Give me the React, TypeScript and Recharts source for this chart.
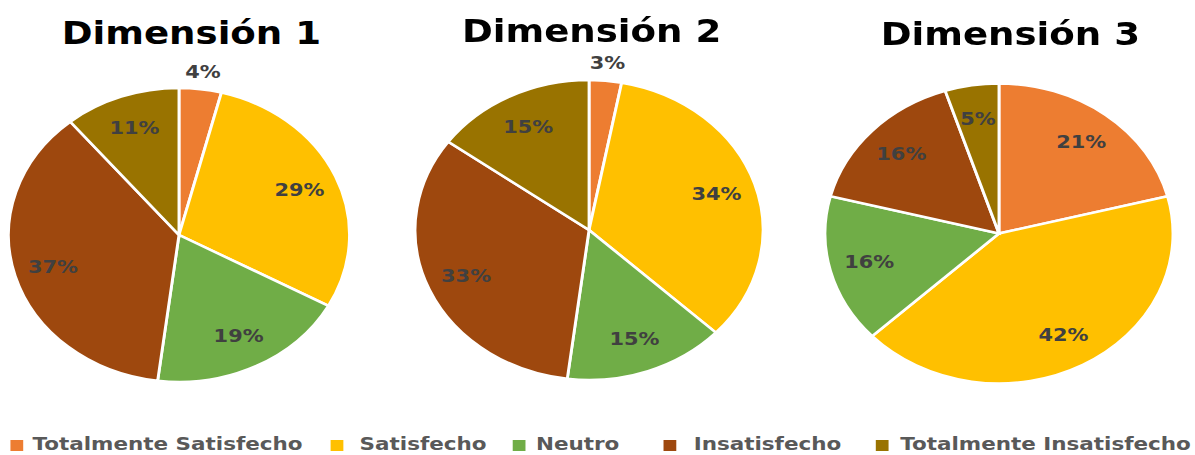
import { PieChart, Pie, Cell } from 'recharts';

// categories and colours
const categories = [
  'Totalmente Satisfecho',
  'Satisfecho',
  'Neutro',
  'Insatisfecho',
  'Totalmente Insatisfecho',
];
const colors = ['#ED7D31', '#FFC000', '#70AD47', '#9E480E', '#997300'];

// percent values per dimension
const dim1 = [4, 29, 19, 37, 11];
const dim2 = [3, 34, 15, 33, 15];
const dim3 = [21, 42, 16, 16, 5];

const titles = ['Dimensión 1', 'Dimensión 2', 'Dimensión 3'];

// the original picture is stretched horizontally
const SX = 1.16;
const W = 1030;
const H = 455;

const toRows = (values: number[]) =>
  categories.map((name, i) => ({ name, value: values[i] }));

const RADIAN = Math.PI / 180;

const renderLabel = (props: any) => {
  const { cx, cy, midAngle, outerRadius, value } = props;
  // very small slices get their label just outside the pie
  const r = value <= 4 ? outerRadius * 1.12 : outerRadius * 0.77;
  const x = cx + r * Math.cos(-midAngle * RADIAN);
  const y = cy + r * Math.sin(-midAngle * RADIAN);
  return (
    <text
      x={x}
      y={y}
      fill="#404040"
      fontSize={18}
      fontWeight="bold"
      fontFamily="DejaVu Sans"
      textAnchor="middle"
      dominantBaseline="central"
    >
      {`${value}%`}
    </text>
  );
};

const pies = [
  { data: toRows(dim1), cx: 154.3, cy: 235, r: 147, titleX: 165, titleTop: 17 },
  { data: toRows(dim2), cx: 507.8, cy: 230, r: 150, titleX: 510, titleTop: 15 },
  { data: toRows(dim3), cx: 861.2, cy: 233.5, r: 150, titleX: 871, titleTop: 18 },
];

// legend layout (square x, text x), in unscaled px
const legendPos = [
  [8.6, 28],
  [284.5, 310],
  [442, 462],
  [571.5, 598],
  [755, 776],
];

export default function App() {
  return (
    <div
      style={{
        position: 'absolute',
        left: 0,
        top: 0,
        width: W,
        height: H,
        transform: `scaleX(${SX})`,
        transformOrigin: 'left top',
        fontFamily: 'DejaVu Sans',
        background: '#fff',
      }}
    >
      <PieChart width={W} height={H} margin={{ top: 0, right: 0, bottom: 0, left: 0 }}>
        {pies.map((p, k) => (
          <Pie
            key={k}
            data={p.data}
            dataKey="value"
            nameKey="name"
            cx={p.cx}
            cy={p.cy}
            outerRadius={p.r}
            startAngle={90}
            endAngle={-270}
            stroke="#fff"
            strokeWidth={2.5}
            label={renderLabel}
            labelLine={false}
            isAnimationActive={false}
          >
            {p.data.map((d, i) => (
              <Cell key={d.name} fill={colors[i]} />
            ))}
          </Pie>
        ))}
      </PieChart>

      {pies.map((p, k) => (
        <div
          key={titles[k]}
          style={{
            position: 'absolute',
            left: p.titleX - 160,
            top: p.titleTop,
            width: 320,
            textAlign: 'center',
            fontSize: 32,
            lineHeight: '32px',
            fontWeight: 'bold',
            color: '#000',
          }}
        >
          {titles[k]}
        </div>
      ))}

      {categories.map((name, i) => (
        <div key={name}>
          <div
            style={{
              position: 'absolute',
              left: legendPos[i][0],
              top: 440,
              width: 11,
              height: 11,
              background: colors[i],
            }}
          />
          <div
            style={{
              position: 'absolute',
              left: legendPos[i][1],
              top: 435,
              fontSize: 18.5,
              lineHeight: '18.5px',
              fontWeight: 'bold',
              color: '#595959',
              whiteSpace: 'nowrap',
            }}
          >
            {name}
          </div>
        </div>
      ))}
    </div>
  );
}
